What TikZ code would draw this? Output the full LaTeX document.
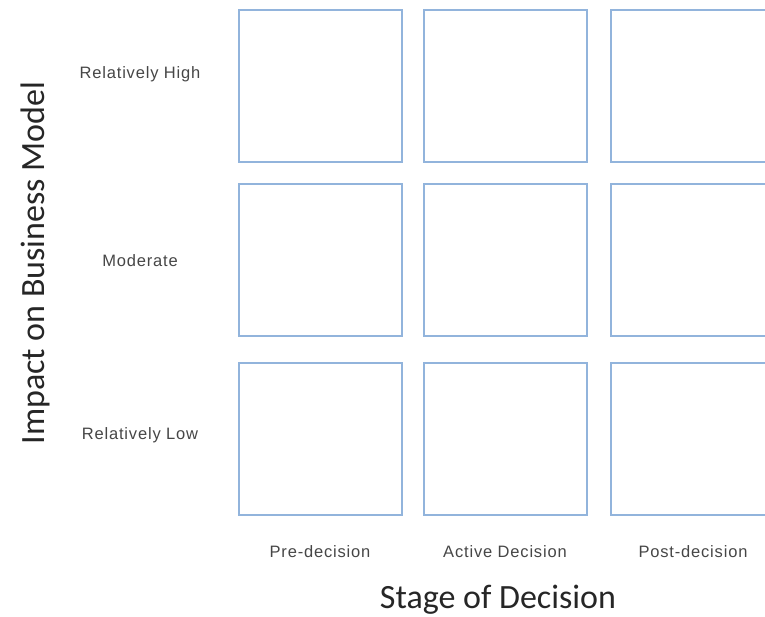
\documentclass[tikz,border=0pt]{standalone}
\usepackage{fontspec}
\setmainfont{Liberation Sans}
\newfontfamily\axisfont{Carlito}
\newfontfamily\cellfont[LetterSpace=5]{Liberation Sans}
\definecolor{cellblue}{RGB}{146,180,220}
\definecolor{labelgray}{RGB}{70,70,70}

\begin{document}
\begin{tikzpicture}
[x=1pt,y=-1pt,%
  cell/.style={draw=cellblue,line width=1.4pt,minimum width=163pt,minimum height=152pt,inner sep=0pt},%
  level/.style={text=labelgray,font=\cellfont\fontsize{16.5}{19}\selectfont},%
  axis/.style={text=black!85,font=\axisfont\fontsize{34}{40}\selectfont}]
\useasboundingbox (0,0) rectangle (765,617);
\clip (0,0) rectangle (765,617);
% grid of cells
\node[cell] (highpre) at (320.5,86) {};
\node[cell] (highactive) at (505.5,86) {};
\node[cell] (highpost) at (692.5,86) {};
\node[cell] (modpre) at (320.5,260) {};
\node[cell] (modactive) at (505.5,260) {};
\node[cell] (modpost) at (692.5,260) {};
\node[cell] (lowpre) at (320.5,439) {};
\node[cell] (lowactive) at (505.5,439) {};
\node[cell] (lowpost) at (692.5,439) {};
% row labels
\node[level] (high) at (140,74) {Relatively High};
\node[level] (mod) at (140,261) {Moderate};
\node[level] (low) at (140,435) {Relatively Low};
% column labels
\node[level] (pre) at (320,552) {Pre-decision};
\node[level] (active) at (505,552) {Active Decision};
\node[level] (post) at (693,552) {Post-decision};
% axis titles
\node[axis] (stage) at (498,600) {Stage of Decision};
\node[axis,rotate=90] (impact) at (35,263) {Impact on Business Model};
\end{tikzpicture}
\end{document}
